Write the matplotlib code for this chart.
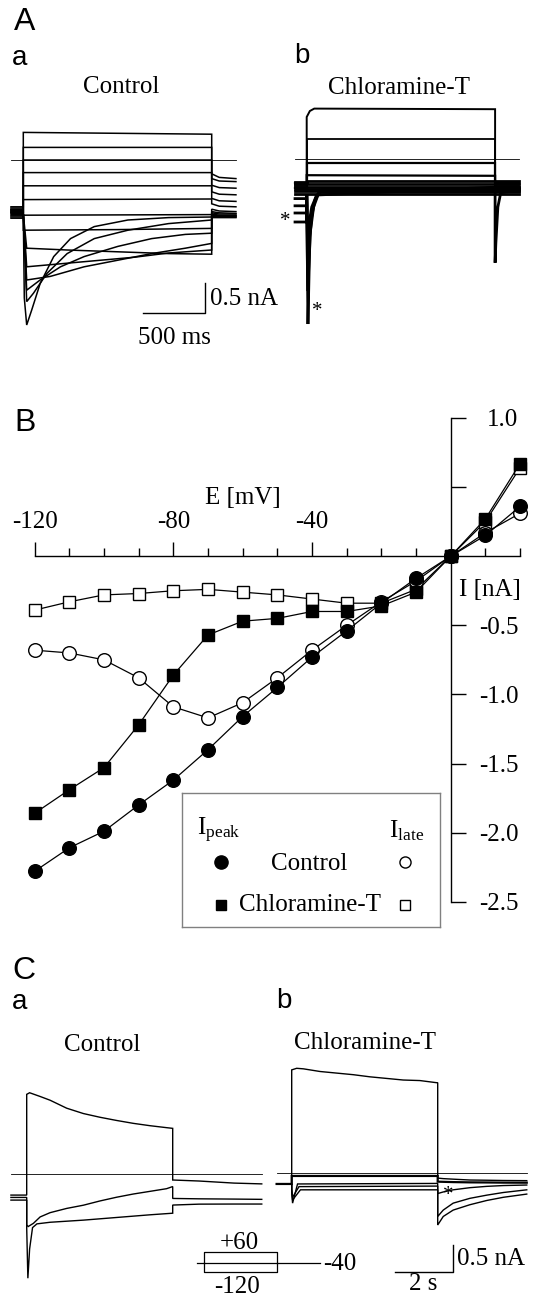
import matplotlib
matplotlib.use('Agg')
import matplotlib.pyplot as plt

plt.rcParams['font.family'] = 'Liberation Serif'
plt.rcParams['mathtext.fontset'] = 'custom'
plt.rcParams['mathtext.rm'] = 'Liberation Serif'
plt.rcParams['mathtext.it'] = 'Liberation Serif:italic'

# ---------------- B: I-V relation (mV, nA) ----------------
volt = [-120, -110, -100, -90, -80, -70, -60, -50, -40, -30, -20, -10, 0, 10, 20]
peak_ctrl = [-2.28, -2.11, -1.99, -1.80, -1.62, -1.40, -1.16, -0.95, -0.73, -0.54, -0.34, -0.16, 0.0, 0.15, 0.36]
late_ctrl = [-0.68, -0.70, -0.75, -0.88, -1.09, -1.17, -1.06, -0.88, -0.68, -0.50, -0.33, -0.18, 0.0, 0.17, 0.31]
peak_chlt = [-1.86, -1.69, -1.53, -1.22, -0.86, -0.57, -0.47, -0.45, -0.40, -0.40, -0.36, -0.26, 0.0, 0.27, 0.67]
late_chlt = [-0.39, -0.33, -0.28, -0.27, -0.25, -0.24, -0.26, -0.28, -0.31, -0.34, -0.34, -0.24, 0.0, 0.25, 0.64]
x_ticks_major = [-120, -80, -40]
x_ticks_minor = [-110, -100, -90, -70, -60, -50, -30, -20, -10, 10, 20]
y_ticks = [1.0, 0.5, -0.5, -1.0, -1.5, -2.0, -2.5]
y_ticklabels = ['1.0', '', '-0.5', '-1.0', '-1.5', '-2.0', '-2.5']

# ---------------- A a: Control, 1.5 s steps (ms, nA) ----------------
aa_pre = -98
aa_tail_t = [1500, 1560, 1693]
aa_hold = [-0.80, -0.83, -0.85, -0.87, -0.89, -0.78, -0.91, -0.93, -0.82, -0.86, -0.95, -0.88, -0.84, -0.97]
aa_step_t = [
    [0, 1500], [0, 1500], [0, 1500], [0, 1500], [0, 1500], [0, 1500], [0, 1500],
    [0, 750, 1500],
    [0, 8, 27, 67, 134, 242, 376, 565, 833, 1156, 1500],
    [0, 27, 81, 188, 349, 565, 833, 1156, 1500],
    [0, 27, 134, 296, 484, 753, 1022, 1290, 1500],
    [0, 27, 215, 484, 753, 1022, 1290, 1500],
    [0, 27, 349, 618, 887, 1156, 1500],
    [0, 27, 349, 753, 1156, 1500],
]
aa_step_i = [
    [0.46, 0.43], [0.21, 0.21], [0.0, 0.0], [-0.21, -0.21], [-0.43, -0.43], [-0.66, -0.65], [-0.92, -0.91],
    [-1.17, -1.16, -1.14],
    [-0.9, -2.3, -2.75, -2.5, -2.06, -1.61, -1.31, -1.11, -1.0, -0.96, -0.95],
    [-0.9, -2.36, -2.22, -1.89, -1.56, -1.31, -1.17, -1.06, -1.0],
    [-0.9, -2.17, -2.0, -1.78, -1.61, -1.44, -1.31, -1.24, -1.22],
    [-0.9, -2.0, -1.94, -1.78, -1.67, -1.56, -1.47, -1.39],
    [-0.9, -1.78, -1.72, -1.67, -1.62, -1.55, -1.5],
    [-0.9, -1.47, -1.5, -1.53, -1.56, -1.57],
]
aa_tail_i = [
    [-0.23, -0.29, -0.31], [-0.31, -0.35, -0.36], [-0.42, -0.46, -0.47], [-0.53, -0.57, -0.58],
    [-0.64, -0.68, -0.69], [-0.73, -0.77, -0.78], [-0.82, -0.85, -0.86], [-0.86, -0.88, -0.89],
    [-0.88, -0.90, -0.90], [-0.90, -0.92, -0.92], [-0.92, -0.93, -0.93], [-0.94, -0.94, -0.94],
    [-0.95, -0.95, -0.95], [-0.96, -0.96, -0.96],
]

# ---------------- A b: Chloramine-T ----------------
ab_pre = -93
ab_tail_t = [1500, 1506, 1522, 1545, 1693]
ab_hold = [-0.42, -0.45, -0.48, -0.40, -0.38, -0.42, -0.46, -0.50, -0.54, -0.58, -1.05, -0.90, -0.78, -0.66]
ab_step_t = [
    [0, 25, 60, 1500], [0, 1500], [0, 1500], [0, 1500],
    [0, 1500], [0, 1500], [0, 1500], [0, 1500], [0, 1500], [0, 1500],
    [0, 10, 25, 45, 70, 110, 1500],
    [0, 8, 30, 55, 90, 130, 1500],
    [0, 8, 35, 65, 100, 1500],
    [0, 8, 40, 80, 1500],
]
ab_step_i = [
    [0.70, 0.80, 0.84, 0.83], [0.33, 0.33], [-0.06, -0.06], [-0.27, -0.28],
    [-0.36, -0.36], [-0.41, -0.41], [-0.46, -0.46], [-0.50, -0.50], [-0.54, -0.54], [-0.59, -0.59],
    [-0.6, -2.75, -1.3, -0.85, -0.65, -0.52, -0.52],
    [-0.6, -2.2, -1.2, -0.8, -0.6, -0.5, -0.5],
    [-0.6, -1.6, -1.0, -0.7, -0.55, -0.55],
    [-0.6, -1.2, -0.8, -0.6, -0.47],
]
ab_tail_i = [
    [-0.42] * 5, [-0.45] * 5, [-0.48] * 5, [-0.40] * 5,
    [-0.36] * 5, [-0.41] * 5, [-0.46] * 5, [-0.50] * 5, [-0.54] * 5, [-0.59] * 5,
    [-1.73, -1.4, -0.8, -0.56, -0.52],
    [-0.5] * 5, [-0.55] * 5, [-0.47] * 5,
]
ab_lw = [1.4, 1.3, 1.6, 1.6, 2.0, 2.0, 2.0, 2.0, 2.0, 2.0, 2.0, 2.0, 2.0, 2.0]

# ---------------- C a: Control, 5 s steps to +60/-40/-120 (s, nA) ----------------
ca_pre = -0.54
ca_tail_t = [5.0, 5.9, 7.1, 8.05]
ca_hold = [-0.39, -0.434, -0.484]
ca_step_t = [
    [0, 0.1, 0.46, 0.8, 1.37, 1.94, 2.51, 3.08, 3.65, 4.22, 4.79, 5.0],
    [0, 0.05, 0.23, 0.46, 0.8, 1.37, 1.94, 2.51, 3.08, 3.65, 4.22, 4.79, 5.0],
    [0, 0.04, 0.1, 0.2, 0.35, 0.8, 1.94, 3.08, 4.22, 5.0],
]
ca_step_i = [
    [1.50, 1.53, 1.46, 1.39, 1.24, 1.14, 1.07, 1.01, 0.956, 0.912, 0.875, 0.862],
    [-0.95, -0.98, -0.92, -0.80, -0.72, -0.64, -0.58, -0.50, -0.43, -0.37, -0.32, -0.27, -0.23],
    [-1.0, -1.95, -1.4, -1.0, -0.93, -0.90, -0.86, -0.81, -0.76, -0.73],
]
ca_tail_i = [
    [-0.107, -0.126, -0.165, -0.18],
    [-0.453, -0.46, -0.465, -0.47],
    [-0.577, -0.56, -0.558, -0.558],
]

# ---------------- C b: Chloramine-T ----------------
cb_pre = -0.515
cb_tail_t = [5.0, 5.19, 5.53, 6.1, 6.68, 7.25, 8.05]
cb_hold = [-0.2, -0.2, -0.2, -0.2, -0.2]
cb_step_t = [
    [0, 0.17, 0.4, 0.97, 1.54, 2.11, 2.68, 3.25, 3.82, 4.39, 4.96, 5.0],
    [0, 5.0],
    [0, 0.03, 0.2, 5.0],
    [0, 0.03, 0.25, 5.0],
    [0, 0.03, 0.3, 5.0],
]
cb_step_i = [
    [1.94, 1.97, 1.96, 1.91, 1.88, 1.85, 1.81, 1.78, 1.75, 1.74, 1.70, 1.70],
    [-0.05, -0.05],
    [-0.35, -0.56, -0.2, -0.19],
    [-0.3, -0.45, -0.25, -0.24],
    [-0.3, -0.5, -0.31, -0.31],
]
cb_tail_i = [
    [-0.09, -0.10, -0.11, -0.126, -0.13, -0.135, -0.138],
    [-0.157, -0.16, -0.165, -0.17, -0.172, -0.175, -0.176],
    [-0.38, -0.35, -0.31, -0.27, -0.245, -0.23, -0.22],
    [-0.81, -0.69, -0.56, -0.47, -0.41, -0.36, -0.31],
    [-0.97, -0.81, -0.69, -0.59, -0.51, -0.45, -0.39],
]

# voltage protocol (mV) for panel C
prot_hold = -40
prot_levels = [60, -40, -120]

# ---------------- figure ----------------
W, H = 537, 1298
fig = plt.figure(figsize=(W / 100, H / 100), dpi=100)


def px_axes(x0, y0, x1, y1, xorg, xscale, yorg, yscale):
    # axes over a pixel box; data 0 sits at (xorg, yorg), scales in px per unit
    ax = fig.add_axes([x0 / W, 1 - y1 / H, (x1 - x0) / W, (y1 - y0) / H])
    ax.set_xlim((x0 - xorg) / xscale, (x1 - xorg) / xscale)
    ax.set_ylim((yorg - y1) / yscale, (yorg - y0) / yscale)
    return ax


def ftext(x, y, s, **kw):
    kw.setdefault('ha', 'center')
    kw.setdefault('va', 'center')
    fig.text(x / W, 1 - y / H, s, **kw)


def draw_sweeps(ax, pre, hold, step_t, step_i, tail_t, tail_i, lws):
    for k in range(len(hold)):
        t = [pre, 0] + list(step_t[k]) + list(tail_t)
        i = [hold[k], hold[k]] + list(step_i[k]) + list(tail_i[k])
        ax.plot(t, i, color='black', lw=lws[k], solid_joinstyle='miter')


# panel letters
sans = 'Liberation Sans'
ftext(25, 22, 'A', family=sans, fontsize=23)
ftext(20, 58, 'a', family=sans, fontsize=20)
ftext(302, 56, 'b', family=sans, fontsize=20)
ftext(25, 423, 'B', family=sans, fontsize=23)
ftext(24, 971, 'C', family=sans, fontsize=23)
ftext(20, 1002, 'a', family=sans, fontsize=20)
ftext(284, 1001, 'b', family=sans, fontsize=20)

ftext(121, 87, 'Control', fontsize=18)
ftext(399, 88, 'Chloramine-T', fontsize=18)
ftext(102, 1045, 'Control', fontsize=18)
ftext(365, 1043, 'Chloramine-T', fontsize=18)

# ---- A a ----
ax = px_axes(0, 95, 262, 350, 23.3, 0.1256, 160, 60)
ax.axis('off')
ax.plot([-98, 1693], [0, 0], color='black', lw=0.6)
draw_sweeps(ax, aa_pre, aa_hold, aa_step_t, aa_step_i, aa_tail_t, aa_tail_i, [1.1] * len(aa_hold))
ax.plot([950, 1450, 1450], [-2.55, -2.55, -2.05], color='black', lw=1.0)
ax.text(1490, -2.32, '0.5 nA', fontsize=18, ha='left', va='center')
ax.text(1205, -2.97, '500 ms', fontsize=18, ha='center', va='center')

# ---- A b ----
ax = px_axes(270, 95, 537, 350, 306.7, 0.1256, 159, 60)
ax.axis('off')
ax.plot([-93, 1690], [0, 0], color='black', lw=0.6)
draw_sweeps(ax, ab_pre, ab_hold, ab_step_t, ab_step_i, ab_tail_t, ab_tail_i, ab_lw)
ftext(285, 222, '*', fontsize=15)
ftext(317, 312, '*', fontsize=15)

# ---- B ----
ax = px_axes(0, 398, 537, 930, 450.7, 3.467, 556.2, 138.2)
for s in ['left', 'bottom']:
    ax.spines[s].set_visible(False)
ax.spines['top'].set_position(('data', 0))
ax.spines['right'].set_position(('data', 0))
ax.spines['top'].set_bounds(-120, 20)
ax.spines['right'].set_bounds(-2.5, 1.0)
for s in ['top', 'right']:
    ax.spines[s].set_linewidth(1.0)
ax.xaxis.set_ticks_position('top')
ax.yaxis.set_ticks_position('right')
ax.set_xticks(x_ticks_major)
ax.set_xticklabels(['-120', '-80', '-40'], fontsize=18)
ax.set_xticks(x_ticks_minor, minor=True)
ax.tick_params(axis='x', which='major', direction='out', length=10, width=1.0, pad=6.5)
ax.tick_params(axis='x', which='minor', direction='out', length=5.8, width=1.0)
ax.set_yticks(y_ticks)
ax.set_yticklabels(y_ticklabels, fontsize=18, ha='right')
ax.tick_params(axis='y', which='major', direction='out', length=10.8, width=1.0, pad=38)
ax.patch.set_visible(False)

ax.plot(volt, late_chlt, color='black', lw=0.9, marker='s', ms=8.8, mfc='white', mec='black', mew=1.0, zorder=3)
ax.plot(volt, late_ctrl, color='black', lw=0.9, marker='o', ms=9.8, mfc='white', mec='black', mew=1.0, zorder=3)
ax.plot(volt, peak_chlt, color='black', lw=0.9, marker='s', ms=8.8, mfc='black', mec='black', zorder=4)
ax.plot(volt, peak_ctrl, color='black', lw=0.9, marker='o', ms=9.8, mfc='black', mec='black', zorder=4)
ax.text(-60, 0.42, 'E [mV]', fontsize=18, ha='center', va='center')
ax.text(11.3, -0.245, 'I [nA]', fontsize=18, ha='center', va='center')

# legend box
lax = fig.add_axes([182.3 / W, 1 - 927.3 / H, (440 - 182.3) / W, (927.3 - 793.3) / H])
lax.set_xlim(0, 1)
lax.set_ylim(0, 1)
lax.set_xticks([])
lax.set_yticks([])
for s in lax.spines.values():
    s.set_edgecolor('#808080')
    s.set_linewidth(1.0)
lax.text(0.056, 0.72, r'I$_{\rm peak}$', fontsize=18, ha='left', va='center')
lax.text(0.94, 0.72, r'I$_{\rm late}$', fontsize=18, ha='right', va='center')
lax.plot([0.149], [0.49], marker='o', ms=9.5, color='black')
lax.plot([0.864], [0.49], marker='o', ms=8, mfc='white', mec='black', mew=1.0)
lax.plot([0.149], [0.165], marker='s', ms=7.5, color='black')
lax.plot([0.864], [0.165], marker='s', ms=7, mfc='white', mec='black', mew=1.0)
lax.text(0.492, 0.47, 'Control', fontsize=18, ha='center', va='center', family='Liberation Serif')
lax.text(0.496, 0.165, 'Chloramine-T', fontsize=18, ha='center', va='center', family='Liberation Serif')

# ---- C a ----
ax = px_axes(0, 1060, 268, 1298, 26.7, 29.2, 1174.3, 53.3)
ax.axis('off')
ax.plot([-0.54, 8.05], [0, 0], color='black', lw=0.6)
draw_sweeps(ax, ca_pre, ca_hold, ca_step_t, ca_step_i, ca_tail_t, ca_tail_i, [1.0] * 3)

# ---- C b ----
ax = px_axes(268, 1060, 537, 1298, 291.7, 29.2, 1173.3, 53.3)
ax.axis('off')
ax.plot([-0.515, 8.05], [0, 0], color='black', lw=0.6)
draw_sweeps(ax, cb_pre, cb_hold, cb_step_t, cb_step_i, cb_tail_t, cb_tail_i, [1.0, 1.6, 1.0, 1.0, 1.0])
ax.plot([3.53, 5.53, 5.53], [-1.85, -1.85, -1.35], color='black', lw=1.0)
ax.text(5.66, -1.61, '0.5 nA', fontsize=18, ha='left', va='center')
ax.text(4.5, -2.08, '2 s', fontsize=18, ha='center', va='center')
ftext(448, 1195, '*', fontsize=15)

# ---- voltage protocol inset ----
pax = px_axes(190, 1245, 330, 1280, 204, 29.2, 1258.8, 0.1078)
pax.axis('off')
pax.plot([-0.24, 0], [prot_hold, prot_hold], color='black', lw=0.9)
pax.plot([2.49, 3.97], [prot_hold, prot_hold], color='black', lw=0.9)
for v in prot_levels:
    pax.plot([0, 0, 2.49, 2.49], [prot_hold, v, v, prot_hold], color='black', lw=0.9)
ftext(239, 1243, '+60', fontsize=18)
ftext(237, 1287, '-120', fontsize=18)
ftext(323, 1264, '-40', fontsize=18, ha='left')

fig.savefig('out.png', dpi=100)
